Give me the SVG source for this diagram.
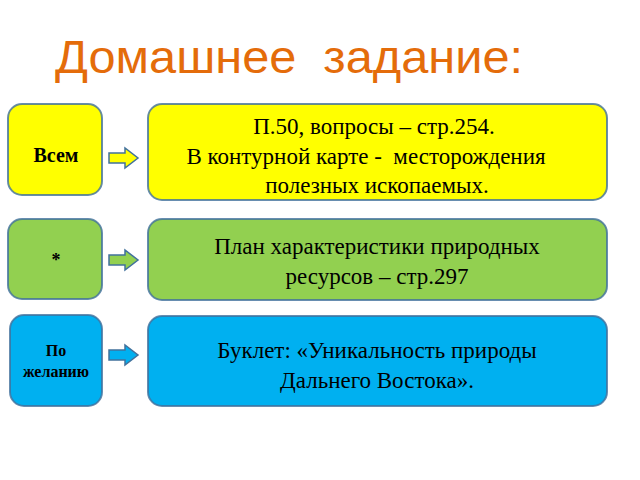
<svg xmlns="http://www.w3.org/2000/svg" width="640" height="480" viewBox="0 0 640 480">
<style>
.b{stroke:#41719C;stroke-width:2;stroke-opacity:0.8}
.y{fill:#FFFF00}.g{fill:#92D050}.c{fill:#00B0F0}
.t{font-family:"Liberation Serif",serif;font-size:23px;fill:#000;text-anchor:middle}
.s{font-family:"Liberation Serif",serif;font-weight:bold;fill:#000;text-anchor:middle}
.a{stroke:#41719C;stroke-width:1.5}
</style>
<rect width="640" height="480" fill="#fff"/>
<text x="55" y="73" font-family="Liberation Sans,sans-serif" font-size="47" fill="#E46C0A" textLength="468" lengthAdjust="spacingAndGlyphs" xml:space="preserve">Домашнее  задание:</text>
<g id="n1"><rect class="b y" x="8" y="104" width="94" height="91" rx="14"/><text class="s" x="56" y="162" font-size="20">Всем</text></g>
<g id="n2"><rect class="b y" x="148" y="104" width="459" height="96" rx="14"/><text class="t" x="374" y="134">П.50, вопросы – стр.254.</text><text class="t" x="366" y="164" xml:space="preserve">В контурной карте -  месторождения</text><text class="t" x="377" y="193">полезных ископаемых.</text></g>
<g id="n3"><rect class="b g" x="8" y="219" width="94" height="80" rx="14"/><text class="s" x="56" y="266" font-size="18">*</text></g>
<g id="n4"><rect class="b g" x="148" y="219" width="459" height="81" rx="14"/><text class="t" x="377" y="254">План характеристики природных</text><text class="t" x="377" y="284">ресурсов – стр.297</text></g>
<g id="n5"><rect class="b c" x="10" y="315" width="92" height="91" rx="14"/><text class="s" x="56" y="356" font-size="16">По</text><text class="s" x="56" y="377" font-size="16">желанию</text></g>
<g id="n6"><rect class="b c" x="148" y="316" width="459" height="90" rx="14"/><text class="t" x="377" y="358">Буклет: «Уникальность природы</text><text class="t" x="377" y="388">Дальнего Востока».</text></g>
<g id="connectors">
<polygon class="a y" points="109,153 125,153 125,148 138,158 125,168 125,163 109,163"/>
<polygon class="a g" points="109,255 125,255 125,250 138,260 125,270 125,265 109,265"/>
<polygon class="a c" points="109,350 125,350 125,345 138,355 125,365 125,360 109,360"/>
</g>
</svg>
